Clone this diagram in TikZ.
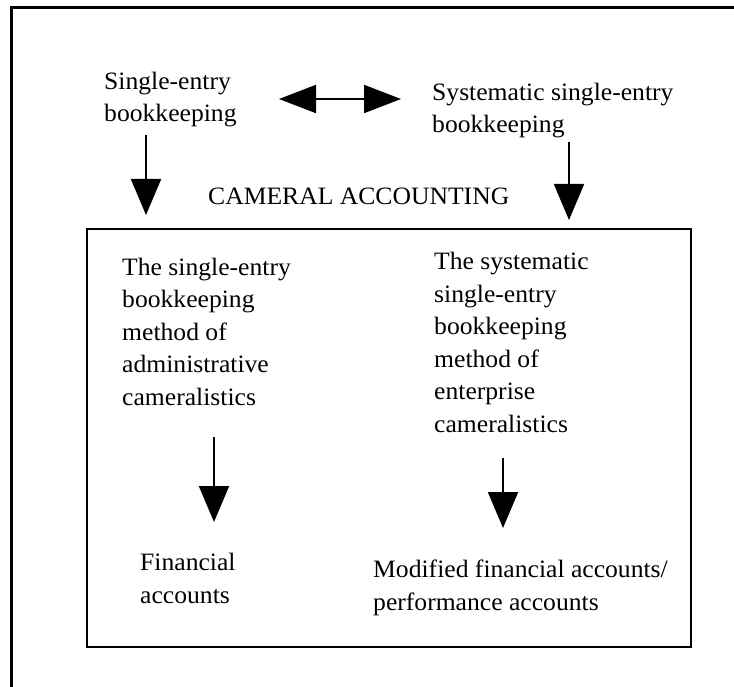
\documentclass[tikz,border=0pt]{standalone}
\usepackage{fontspec}
\setmainfont[FakeStretch=1.025]{Liberation Serif}
\usetikzlibrary{arrows.meta}
\begin{document}
\begin{tikzpicture}[x=1pt,y=-1pt,
  txt/.style={anchor=base west,inner sep=0pt,align=left,font=\fontsize{25}{32.5}\selectfont},
  frameline/.style={line width=3pt},
  boxline/.style={line width=2pt},
  bigarrow/.style={line width=2pt,-{Triangle[width=30pt,length=36pt]}},
  dblarrow/.style={line width=2pt,{Triangle[width=28pt,length=37pt]}-{Triangle[width=28pt,length=37pt]}}]
\useasboundingbox (0,0) rectangle (734,687);
% outer frame
\draw[frameline] (11.5,687) -- (11.5,7.5) -- (734,7.5);
% inner box
\node[draw,boxline,minimum width=604pt,minimum height=418pt,anchor=north west,inner sep=0pt] (box) at (86,228) {};
% texts (anchor = baseline of last line)
\node[txt] (single) at (104,122) {Single-entry\\bookkeeping};
\node[txt] (syst) at (432,133) {Systematic single-entry\\bookkeeping};
\node[txt] (cam) at (208,205) {CAMERAL ACCOUNTING};
\node[txt] (left) at (122,405) {The single-entry\\bookkeeping\\method of\\administrative\\cameralistics};
\node[txt] (right) at (434,432) {The systematic\\single-entry\\bookkeeping\\method of\\enterprise\\cameralistics};
\node[txt] (fin) at (140,603) {Financial\\accounts};
\node[txt] (mod) at (373,610) {Modified financial accounts/\\performance accounts};
% arrow endpoints
\coordinate (dA) at (279,99);
\coordinate (dB) at (401,99);
\coordinate (a1s) at (146,135);
\coordinate (a1e) at (146,215);
\coordinate (a2s) at (569,142);
\coordinate (a2e) at (569,220);
\coordinate (a3s) at (214,437);
\coordinate (a3e) at (214,522);
\coordinate (a4s) at (503,458);
\coordinate (a4e) at (503,528);
\draw[dblarrow] (dA) -- (dB);
\draw[bigarrow] (a1s) -- (a1e);
\draw[bigarrow] (a2s) -- (a2e);
\draw[bigarrow] (a3s) -- (a3e);
\draw[bigarrow] (a4s) -- (a4e);
\end{tikzpicture}
\end{document}
